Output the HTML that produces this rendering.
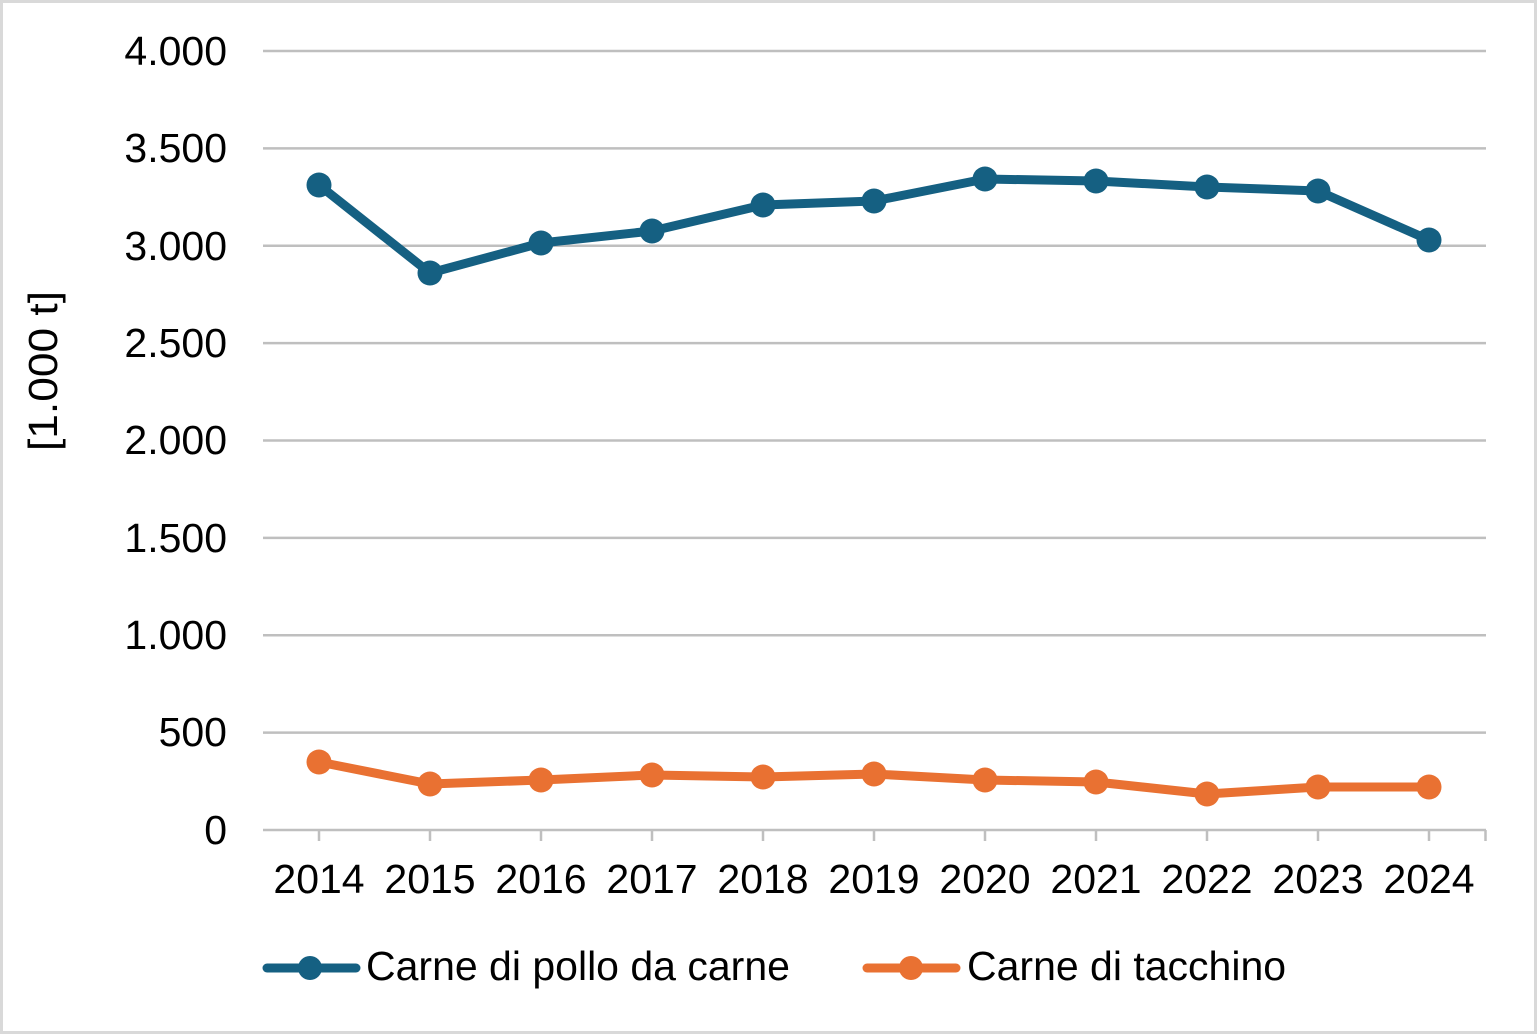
<!DOCTYPE html>
<html>
<head>
<meta charset="utf-8">
<style>
  html, body { margin:0; padding:0; background:#fff; }
  svg { display:block; }
  text { font-family: "Liberation Sans", Arial, sans-serif; fill:#000; }
</style>
</head>
<body>
<svg width="1537" height="1034" viewBox="0 0 1537 1034" xmlns="http://www.w3.org/2000/svg">
  <rect x="0" y="0" width="1537" height="1034" fill="#ffffff"/>
  <rect x="1.5" y="1.5" width="1534" height="1031" fill="none" stroke="#d9d9d9" stroke-width="3"/>

  <!-- gridlines -->
  <g stroke="#bfbfbf" stroke-width="2.5">
    <line x1="263" y1="51" x2="1486" y2="51"/>
    <line x1="263" y1="148.4" x2="1486" y2="148.4"/>
    <line x1="263" y1="245.8" x2="1486" y2="245.8"/>
    <line x1="263" y1="343.1" x2="1486" y2="343.1"/>
    <line x1="263" y1="440.5" x2="1486" y2="440.5"/>
    <line x1="263" y1="537.9" x2="1486" y2="537.9"/>
    <line x1="263" y1="635.3" x2="1486" y2="635.3"/>
    <line x1="263" y1="732.6" x2="1486" y2="732.6"/>
    <line x1="263" y1="830" x2="1486" y2="830"/>
  </g>
  <!-- ticks -->
  <g stroke="#bfbfbf" stroke-width="2.5">
    <line x1="319" y1="830" x2="319" y2="841"/>
    <line x1="430" y1="830" x2="430" y2="841"/>
    <line x1="541" y1="830" x2="541" y2="841"/>
    <line x1="652" y1="830" x2="652" y2="841"/>
    <line x1="763" y1="830" x2="763" y2="841"/>
    <line x1="874" y1="830" x2="874" y2="841"/>
    <line x1="985" y1="830" x2="985" y2="841"/>
    <line x1="1096" y1="830" x2="1096" y2="841"/>
    <line x1="1207" y1="830" x2="1207" y2="841"/>
    <line x1="1318" y1="830" x2="1318" y2="841"/>
    <line x1="1429" y1="830" x2="1429" y2="841"/>
    <line x1="1485.5" y1="830" x2="1485.5" y2="841"/>
  </g>

  <!-- y tick labels -->
  <g font-size="41" text-anchor="end">
    <text x="227" y="65">4.000</text>
    <text x="227" y="162">3.500</text>
    <text x="227" y="260">3.000</text>
    <text x="227" y="357">2.500</text>
    <text x="227" y="454">2.000</text>
    <text x="227" y="552">1.500</text>
    <text x="227" y="649">1.000</text>
    <text x="227" y="746">500</text>
    <text x="227" y="844">0</text>
  </g>

  <!-- y axis title -->
  <text font-size="41" text-anchor="middle" textLength="160" lengthAdjust="spacingAndGlyphs" transform="translate(57,371) rotate(-90)">[1.000 t]</text>

  <!-- x labels -->
  <g font-size="41" text-anchor="middle">
    <text x="319" y="893">2014</text>
    <text x="430" y="893">2015</text>
    <text x="541" y="893">2016</text>
    <text x="652" y="893">2017</text>
    <text x="763" y="893">2018</text>
    <text x="874" y="893">2019</text>
    <text x="985" y="893">2020</text>
    <text x="1096" y="893">2021</text>
    <text x="1207" y="893">2022</text>
    <text x="1318" y="893">2023</text>
    <text x="1429" y="893">2024</text>
  </g>

  <!-- blue series -->
  <polyline fill="none" stroke="#156082" stroke-width="9" stroke-linejoin="round" stroke-linecap="round"
    points="319,185 430,273 541,243 652,231 763,205 874,201 985,179 1096,181 1207,187 1318,191 1429,240"/>
  <g fill="#156082">
    <circle cx="319" cy="185" r="12.5"/>
    <circle cx="430" cy="273" r="12.5"/>
    <circle cx="541" cy="243" r="12.5"/>
    <circle cx="652" cy="231" r="12.5"/>
    <circle cx="763" cy="205" r="12.5"/>
    <circle cx="874" cy="201" r="12.5"/>
    <circle cx="985" cy="179" r="12.5"/>
    <circle cx="1096" cy="181" r="12.5"/>
    <circle cx="1207" cy="187" r="12.5"/>
    <circle cx="1318" cy="191" r="12.5"/>
    <circle cx="1429" cy="240" r="12.5"/>
  </g>

  <!-- orange series -->
  <polyline fill="none" stroke="#e97132" stroke-width="9" stroke-linejoin="round" stroke-linecap="round"
    points="319,762 430,784 541,780 652,775 763,777 874,774 985,780 1096,782 1207,794 1318,787 1429,787"/>
  <g fill="#e97132">
    <circle cx="319" cy="762" r="12.5"/>
    <circle cx="430" cy="784" r="12.5"/>
    <circle cx="541" cy="780" r="12.5"/>
    <circle cx="652" cy="775" r="12.5"/>
    <circle cx="763" cy="777" r="12.5"/>
    <circle cx="874" cy="774" r="12.5"/>
    <circle cx="985" cy="780" r="12.5"/>
    <circle cx="1096" cy="782" r="12.5"/>
    <circle cx="1207" cy="794" r="12.5"/>
    <circle cx="1318" cy="787" r="12.5"/>
    <circle cx="1429" cy="787" r="12.5"/>
  </g>

  <!-- legend -->
  <line x1="267" y1="968" x2="356" y2="968" stroke="#156082" stroke-width="9" stroke-linecap="round"/>
  <circle cx="310" cy="968" r="12" fill="#156082"/>
  <text x="366" y="980" font-size="41">Carne di pollo da carne</text>

  <line x1="867" y1="968" x2="956" y2="968" stroke="#e97132" stroke-width="9" stroke-linecap="round"/>
  <circle cx="911" cy="968" r="12" fill="#e97132"/>
  <text x="967" y="980" font-size="41">Carne di tacchino</text>
</svg>
</body>
</html>
